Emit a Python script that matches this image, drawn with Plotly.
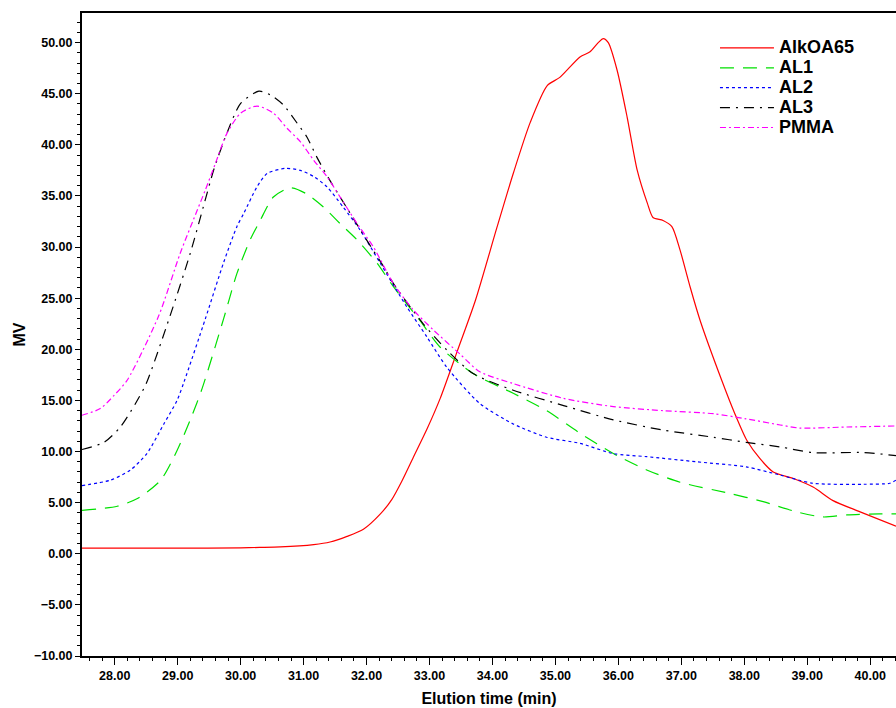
import plotly.graph_objects as go

# ---- data ----
alk_x = [27.48, 28.0, 29.0, 30.0, 30.3, 30.63, 31.16, 31.42, 31.69, 31.95, 32.22, 32.40, 32.56, 32.74, 32.96,
         33.17, 33.44, 33.73, 34.07, 34.33, 34.60, 34.87, 35.07, 35.39, 35.55, 35.68, 35.76, 35.84, 35.98,
         36.14, 36.30, 36.46, 36.55, 36.71, 36.85, 36.98, 37.14, 37.30, 37.64, 37.85, 38.04, 38.25, 38.46,
         38.78, 39.10, 39.41, 39.84, 40.41]
alk_y = [0.55, 0.55, 0.55, 0.58, 0.62, 0.67, 0.9, 1.15, 1.7, 2.4, 3.9, 5.3, 7.1, 9.4, 12.2,
         15.2, 19.8, 24.8, 31.9, 37.2, 42.2, 45.8, 46.6, 48.6, 49.1, 50.0, 50.4, 50.0, 47.3,
         42.7, 37.5, 34.3, 32.9, 32.6, 32.0, 29.7, 26.1, 22.8, 17.0, 13.7, 11.1, 9.3, 8.0,
         7.36, 6.5, 5.2, 4.1, 2.7]

al1_x = [27.48, 28.04, 28.36, 28.73, 28.99, 29.2, 29.39, 29.73, 29.94, 30.15, 30.31, 30.52, 30.79, 31.05,
         31.32, 31.58, 31.85, 32.17, 32.43, 32.85, 33.17, 33.70, 34.33, 34.86, 35.39, 35.92, 36.45, 36.98,
         37.77, 38.30, 38.83, 39.25, 39.63, 40.15, 40.41]
al1_y = [4.25, 4.65, 5.4, 7.2, 10.1, 13.1, 16.2, 23.0, 27.4, 30.7, 32.6, 34.9, 35.8, 35.2,
         33.9, 32.3, 30.7, 28.4, 26.1, 22.8, 20.2, 17.6, 15.7, 14.0, 11.8, 9.8, 8.2, 7.0,
         5.9, 5.1, 4.1, 3.6, 3.8, 3.9, 3.9]

al2_x = [27.48, 27.93, 28.25, 28.51, 28.78, 28.99, 29.10, 29.44, 29.73, 29.94, 30.05, 30.26, 30.42, 30.71,
         30.95, 31.16, 31.37, 31.63, 31.9, 32.22, 32.64, 32.96, 33.28, 33.80, 34.33, 34.86, 35.39, 35.92,
         36.45, 37.24, 38.03, 38.57, 39.09, 39.89, 40.31, 40.41]
al2_y = [6.67, 7.2, 8.2, 9.8, 12.7, 15.0, 16.8, 23.0, 28.5, 32.0, 33.3, 35.9, 37.2, 37.7,
         37.5, 36.9, 35.9, 33.9, 31.65, 28.4, 24.15, 21.2, 18.2, 14.7, 12.7, 11.4, 10.8, 9.8,
         9.5, 9.0, 8.5, 7.7, 6.9, 6.8, 6.9, 7.2]

al3_x = [27.48, 27.83, 28.09, 28.33, 28.50, 28.88, 29.20, 29.41, 29.57, 29.76, 30.0, 30.29, 30.47, 30.68,
         30.90, 31.05, 31.21, 31.42, 31.58, 31.74, 32.0, 32.27, 32.43, 32.9, 33.28, 33.70, 34.33, 35.13,
         35.92, 36.71, 37.51, 38.03, 38.57, 39.09, 39.89, 40.41]
al3_y = [10.2, 10.9, 12.4, 14.7, 16.65, 23.3, 29.4, 34.0, 37.5, 40.8, 44.05, 45.25, 44.9, 43.9,
         42.1, 40.8, 38.8, 36.5, 34.9, 33.3, 30.7, 28.1, 26.4, 22.5, 19.9, 17.6, 16.0, 14.5,
         13.1, 12.1, 11.4, 10.9, 10.45, 9.9, 9.9, 9.6]

pmma_x = [27.48, 27.77, 27.99, 28.20, 28.70, 29.04, 29.31, 29.44, 29.6, 29.78, 30.0, 30.26, 30.52, 30.74,
          30.95, 31.16, 31.37, 31.58, 31.85, 32.11, 32.43, 32.75, 33.06, 33.49, 33.80, 34.33, 35.13, 35.92,
          36.71, 37.51, 38.03, 38.57, 38.88, 39.63, 40.41]
pmma_y = [13.55, 14.2, 15.5, 17.0, 23.3, 29.4, 33.6, 35.6, 38.2, 41.1, 43.1, 43.8, 43.1, 41.6,
          40.3, 38.5, 36.9, 34.9, 32.3, 30.0, 26.4, 23.8, 21.9, 19.5, 17.8, 16.65, 15.2, 14.4,
          14.0, 13.7, 13.2, 12.6, 12.3, 12.4, 12.5]

series_names = ["AlkOA65", "AL1", "AL2", "AL3", "PMMA"]

FONT = "Arial, 'Liberation Sans', sans-serif"

fig = go.Figure()
specs = [
    (alk_x, alk_y, "#ff0000", "solid"),
    (al1_x, al1_y, "#00e000", "14px,9px"),
    (al2_x, al2_y, "#0000ff", "3px,3px"),
    (al3_x, al3_y, "#000000", "10px,6px,2px,6px"),
    (pmma_x, pmma_y, "#ff00ff", "6px,3px,2px,3px"),
]
for name, (xs, ys, col, dash) in zip(series_names, specs):
    fig.add_trace(go.Scatter(
        x=xs, y=ys, mode="lines",
        name='<span style="font-size:18px">' + name + '</span>',
        line=dict(color=col, width=1.2, dash=dash, shape="spline", smoothing=0.7),
    ))

fig.update_layout(
    width=896, height=708,
    margin=dict(l=82, r=0, t=13, b=52),
    paper_bgcolor="white", plot_bgcolor="white",
    font=dict(family=FONT, color="black"),
    showlegend=True,
    legend=dict(
        x=0.7776, y=0.969, xanchor="left", yanchor="top",
        bgcolor="rgba(0,0,0,0)", borderwidth=0,
        font=dict(family=FONT, size=13, color="black", weight="bold"),
        tracegroupgap=0, itemwidth=54,
    ),
)

fig.update_xaxes(
    range=[27.48, 40.41], dtick=1, tick0=0, tickformat=".2f",
    showgrid=False, zeroline=False,
    showline=True, linecolor="black", linewidth=2, mirror=True,
    ticks="outside", ticklen=7, tickwidth=1, tickcolor="black",
    minor=dict(dtick=0.2, ticks="outside", ticklen=3, tickcolor="black", tickwidth=1),
    tickfont=dict(family=FONT, size=12.5, color="black", weight="bold"),
    title=dict(text="Elution time (min)", standoff=11,
               font=dict(family=FONT, size=16, color="black", weight="bold")),
)
fig.update_yaxes(
    range=[-10, 52.9], dtick=5, tick0=0, tickformat=".2f",
    showgrid=False, zeroline=False,
    showline=True, linecolor="black", linewidth=2,
    ticks="outside", ticklen=5, tickwidth=1, tickcolor="black",
    minor=dict(dtick=1, ticks="outside", ticklen=3, tickcolor="black", tickwidth=1),
    tickfont=dict(family=FONT, size=12.5, color="black", weight="bold"),
    title=dict(text="MV", standoff=4,
               font=dict(family=FONT, size=16, color="black", weight="bold")),
)

fig.write_html("out.html")
